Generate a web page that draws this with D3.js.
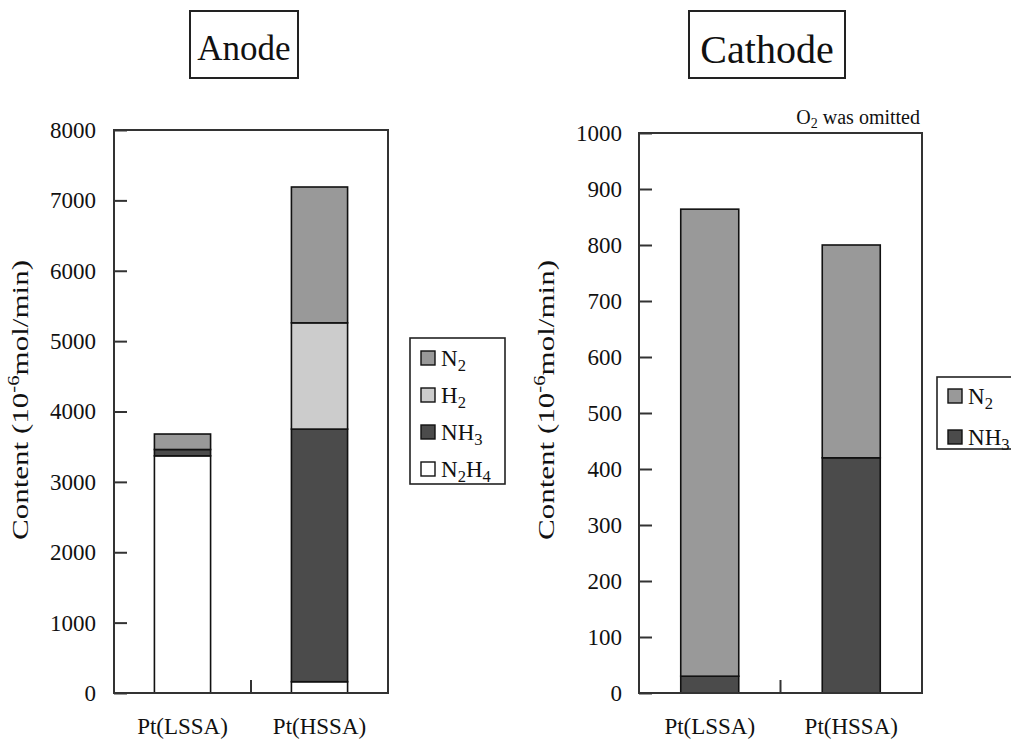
<!DOCTYPE html>
<html>
<head>
<meta charset="utf-8">
<script src="https://cdnjs.cloudflare.com/ajax/libs/d3/7.8.5/d3.min.js"></script>
<style>
  body { margin: 0; background: #fff; }
  svg text { font-family: "Liberation Serif", "Times New Roman", serif; fill: #111; }
</style>
</head>
<body>
<div class="svg-target"></div>
<script>
// Data
const categories = ['Pt(LSSA)', 'Pt(HSSA)'];

const anodeKeys = ['N2H4', 'NH3', 'H2', 'N2'];
const anodeN2H4 = [3370, 160];
const anodeNH3 = [90, 3590];
const anodeH2 = [0, 1510];
const anodeN2 = [220, 1930];
const anodeTicks = [0, 1000, 2000, 3000, 4000, 5000, 6000, 7000, 8000];

const cathodeKeys = ['NH3', 'N2'];
const cathodeNH3 = [30, 420];
const cathodeN2 = [834, 380];
const cathodeTicks = [0, 100, 200, 300, 400, 500, 600, 700, 800, 900, 1000];

const colors = {N2: '#999999', H2: '#cccccc', NH3: '#4b4b4b', N2H4: '#ffffff'};

const w = 1011;
const h = 743;

// writes a chemical formula with the digits as subscripts
const formula = (sel, str, size) => {
    let shifted = false;
    for (const ch of str) {
        const isDigit = /[0-9]/.test(ch);
        const t = sel.append('tspan').text(ch);
        if (isDigit && !shifted) {
            t.attr('font-size', size * 0.72).attr('dy', size * 0.22);
            shifted = true;
        } else if (isDigit) {
            t.attr('font-size', size * 0.72);
        } else if (shifted) {
            t.attr('dy', -size * 0.22);
            shifted = false;
        }
    }
};

const svg = d3.select('.svg-target')
    .append('svg')
    .attr('width', w)
    .attr('height', h);

const renderPanel = (cfg) => {
    const g = svg.append('g');

    const rows = categories.map((c, i) => {
        const r = {cat: c};
        cfg.keys.forEach(k => r[k] = cfg.values[k][i]);
        return r;
    });
    const series = d3.stack().keys(cfg.keys)(rows);

    const x = d3.scaleBand()
        .domain(categories)
        .range([cfg.left, cfg.right])
        .padding(0);
    const y = d3.scaleLinear()
        .domain([0, d3.max(cfg.ticks)])
        .range([cfg.bottom, cfg.top]);

    const barW = x.bandwidth() * 0.41;

    // bars
    g.selectAll('g.layer')
        .data(series)
        .join('g')
        .attr('class', 'layer')
        .attr('fill', d => colors[d.key])
        .selectAll('rect')
        .data(d => d.filter(s => s[1] - s[0] > 0))
        .join('rect')
        .attr('x', d => x(d.data.cat) + (x.bandwidth() - barW) / 2)
        .attr('y', d => y(d[1]))
        .attr('width', barW)
        .attr('height', d => y(d[0]) - y(d[1]))
        .attr('stroke', '#111')
        .attr('stroke-width', 1.6);

    // y axis, ticks pointing inward
    const yAxis = d3.axisLeft(y)
        .tickValues(cfg.ticks)
        .tickSizeInner(-13)
        .tickSizeOuter(0)
        .tickPadding(cfg.pad)
        .tickFormat(d3.format('d'));
    g.append('g')
        .attr('transform', `translate(${cfg.left}, 0)`)
        .call(yAxis)
        .call(a => a.select('.domain').remove())
        .call(a => a.selectAll('line').attr('stroke', '#333').attr('stroke-width', 2))
        .call(a => a.selectAll('text')
            .attr('font-size', 23)
            .attr('fill', '#111'));

    // x axis: category labels and the separator tick
    const xAxis = d3.axisBottom(x).tickSize(0).tickPadding(25);
    g.append('g')
        .attr('transform', `translate(0, ${cfg.bottom})`)
        .call(xAxis)
        .call(a => a.select('.domain').remove())
        .call(a => a.selectAll('text')
            .attr('font-size', 23)
            .attr('fill', '#111'));
    g.append('line')
        .attr('x1', x(categories[1]))
        .attr('x2', x(categories[1]))
        .attr('y1', cfg.bottom)
        .attr('y2', cfg.bottom - 13)
        .attr('stroke', '#333')
        .attr('stroke-width', 2);

    // frame
    g.append('rect')
        .attr('x', cfg.left)
        .attr('y', cfg.top)
        .attr('width', cfg.right - cfg.left)
        .attr('height', cfg.bottom - cfg.top)
        .attr('fill', 'none')
        .attr('stroke', '#333')
        .attr('stroke-width', 2);

    // y label
    const yl = g.append('text')
        .attr('transform', `translate(${cfg.ylx}, 400) rotate(-90)`)
        .attr('text-anchor', 'middle')
        .attr('font-size', 24)
        .attr('textLength', 280)
        .attr('lengthAdjust', 'spacingAndGlyphs');
    yl.append('tspan').text('Content (10');
    yl.append('tspan').text('-6').attr('font-size', 16).attr('dy', -9);
    yl.append('tspan').text('mol/min)').attr('dy', 9);

    // title box
    g.append('rect')
        .attr('x', cfg.title.x)
        .attr('y', 11)
        .attr('width', cfg.title.w)
        .attr('height', 67)
        .attr('fill', 'none')
        .attr('stroke', '#222')
        .attr('stroke-width', 2);
    g.append('text')
        .attr('x', cfg.title.x + cfg.title.w / 2)
        .attr('y', cfg.title.base)
        .attr('text-anchor', 'middle')
        .attr('font-size', cfg.title.size)
        .text(cfg.title.text);

    // legend
    const lg = cfg.legend;
    g.append('rect')
        .attr('x', lg.x)
        .attr('y', lg.y)
        .attr('width', lg.w)
        .attr('height', lg.h)
        .attr('fill', '#fff')
        .attr('stroke', '#222')
        .attr('stroke-width', 1.6);
    const items = g.selectAll('g.leg')
        .data(lg.order)
        .join('g')
        .attr('class', 'leg')
        .attr('transform', (d, i) => `translate(${lg.x + 11}, ${lg.y + lg.first + i * lg.step})`);
    items.append('rect')
        .attr('x', 0)
        .attr('y', -7)
        .attr('width', 14)
        .attr('height', 14)
        .attr('fill', d => colors[d])
        .attr('stroke', '#111')
        .attr('stroke-width', 1.4);
    items.append('text')
        .attr('x', 20)
        .attr('y', 8)
        .attr('font-size', 23)
        .each(function(d) { formula(d3.select(this), d, 23); });

    return {x, y};
};

renderPanel({
    keys: anodeKeys,
    values: {N2H4: anodeN2H4, NH3: anodeNH3, H2: anodeH2, N2: anodeN2},
    ticks: anodeTicks,
    left: 114, right: 388, top: 130, bottom: 693,
    pad: 18, ylx: 28,
    title: {text: 'Anode', x: 190, w: 108, size: 35, base: 60},
    legend: {x: 410, y: 338, w: 95, h: 146, first: 20, step: 37, order: ['N2', 'H2', 'NH3', 'N2H4']}
});

renderPanel({
    keys: cathodeKeys,
    values: {NH3: cathodeNH3, N2: cathodeN2},
    ticks: cathodeTicks,
    left: 639, right: 922, top: 133, bottom: 693,
    pad: 17, ylx: 554,
    title: {text: 'Cathode', x: 689, w: 156, size: 40, base: 63},
    legend: {x: 937, y: 377, w: 100, h: 72, first: 19, step: 41, order: ['N2', 'NH3']}
});

// note above the cathode frame
const note = svg.append('text')
    .attr('x', 920)
    .attr('y', 124)
    .attr('text-anchor', 'end')
    .attr('font-size', 20);
note.append('tspan').text('O');
note.append('tspan').text('2').attr('font-size', 14).attr('dy', 4);
note.append('tspan').text(' was omitted').attr('dy', -4);
</script>
</body>
</html>
